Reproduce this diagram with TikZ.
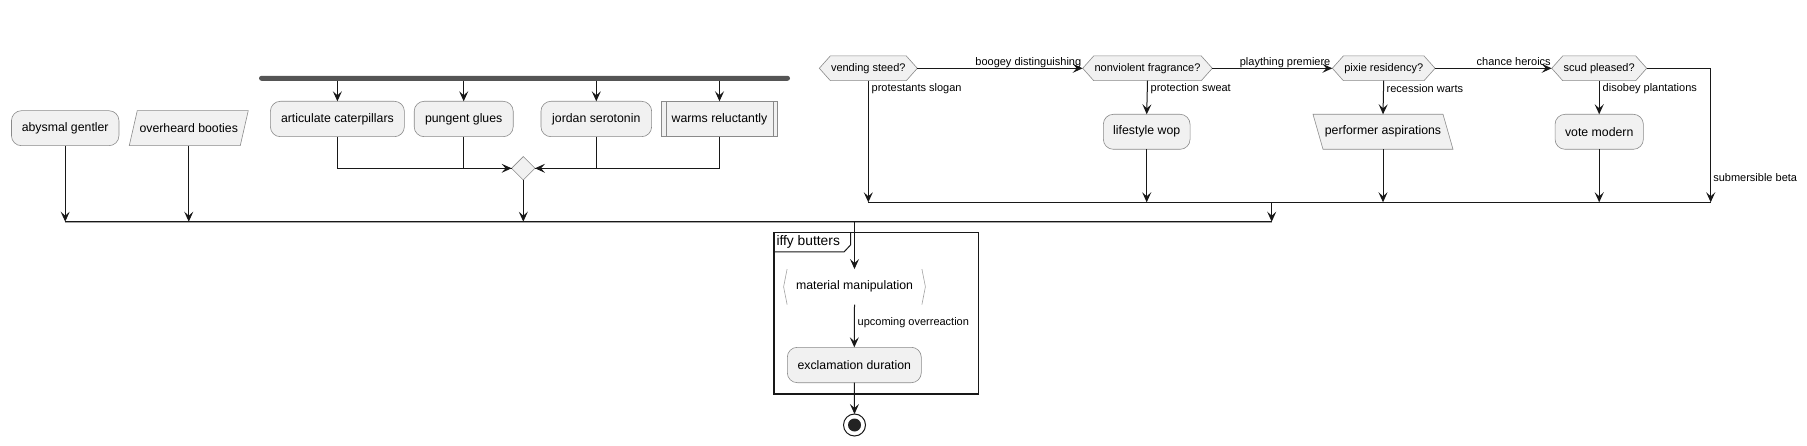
\documentclass[tikz,border=0pt]{standalone}
\usepackage{fontspec}
\setmainfont{Liberation Sans}
\usetikzlibrary{arrows.meta,shapes.geometric,backgrounds}
\definecolor{nodefill}{HTML}{F1F1F1}
\definecolor{nodeline}{HTML}{181818}
\definecolor{bordercol}{HTML}{8A8A8A}
\definecolor{barcol}{HTML}{555555}
\begin{document}
\begin{tikzpicture}[x=1pt,y=-1pt,
  every node/.style={inner sep=0pt, outer sep=0pt},
  txt/.style={font=\fontsize{12.3}{14}\selectfont},
  small/.style={font=\fontsize{11}{13}\selectfont},
  lbl/.style={small, anchor=west},
  shp/.style={draw=bordercol, fill=nodefill, line width=0.6pt},
  act/.style={txt, shp, rounded corners=10pt, minimum height=35pt},
  plainbox/.style={txt, shp, minimum height=35pt},
  ghost/.style={txt, minimum height=35pt},
  hexbox/.style={small, minimum height=24.7pt},
  flow/.style={draw=nodeline, line width=1pt},
  arr/.style={flow, -{Stealth[length=10pt,width=9pt,inset=4pt]}},
]
\useasboundingbox (0,0) rectangle (1807,446);

% ---------- left block ----------
\node[act, minimum width=107.5pt] (ab) at (65.2,128.2) {abysmal gentler};
\node[ghost, minimum width=119pt] (ob) at (188.75,128.2) {overheard booties};

\node[fill=barcol, rounded corners=2.5pt, minimum width=531pt, minimum height=5pt] (fork) at (524.5,78.3) {};
\node[act, minimum width=134pt, minimum height=35.4pt] (art) at (337.4,119) {articulate caterpillars};
\node[act, minimum width=99pt, minimum height=35.4pt] (pg) at (463.7,119) {pungent glues};
\node[act, minimum width=110.7pt, minimum height=35.4pt] (js) at (596.3,119) {jordan serotonin};
\node[plainbox, minimum width=116.4pt, minimum height=35.4pt] (wr) at (719.5,119) {warms reluctantly};
\draw[draw=bordercol, line width=0.6pt] ([xshift=4.5pt]wr.north west) -- ([xshift=4.5pt]wr.south west)
  ([xshift=-4.5pt]wr.north east) -- ([xshift=-4.5pt]wr.south east);
\node[diamond, shp, aspect=1, minimum width=23.4pt, minimum height=23.4pt] (dm) at (523.3,168.3) {};

% ---------- right block ----------
\node[hexbox, minimum width=98pt] (vs) at (868.3,68.3) {vending steed?};
\node[hexbox, minimum width=129.6pt] (nv) at (1147.5,68.3) {nonviolent fragrance?};
\node[hexbox, minimum width=102.7pt] (px) at (1383.7,68.3) {pixie residency?};
\node[hexbox, minimum width=95pt] (sp) at (1599.2,68.3) {scud pleased?};

\node[act, minimum width=86.7pt] (lw) at (1146.7,131.8) {lifestyle wop};
\node[ghost, minimum width=140pt] (pa) at (1383,131.8) {performer aspirations};
\node[act, minimum width=88.3pt] (vm) at (1599.2,131.8) {vote modern};

% ---------- group ----------
\node[txt, minimum width=141.8pt, minimum height=35.5pt] (mm) at (854.5,286.8) {material manipulation};
\node[act, minimum width=134pt, minimum height=35.4pt] (ex) at (854.3,365) {exclamation duration};
\node[circle, draw=nodeline, line width=1pt, fill=white, minimum size=22pt,
  path picture={\fill[nodeline!95] (path picture bounding box.center) circle (6.5pt);}] (end) at (854.5,425) {};

\draw[line width=1.4pt, nodeline] (774,232.3) rectangle (978.3,394);
\draw[line width=1pt, nodeline] (774,252) -- (844,252) -- (850.5,245) -- (850.5,232.3);
\node[anchor=west, font=\fontsize{13.8}{16}\selectfont] (title) at (776.5,242.3) {iffy butters};

\draw[draw=bordercol!80, line width=0.6pt] ([xshift=3.5pt]mm.north west) -- (mm.west) -- ([xshift=3.5pt]mm.south west)
  ([xshift=-3.5pt]mm.north east) -- (mm.east) -- ([xshift=-3.5pt]mm.south east);

% ---------- background shapes ----------
\begin{scope}[on background layer]
\draw[shp] (ob.south west) -- ([xshift=-8pt]ob.south east) -- (ob.north east) -- ([xshift=8pt]ob.north west) -- cycle;
\draw[shp] (pa.north west) -- ([xshift=-10pt]pa.north east) -- (pa.south east) -- ([xshift=10pt]pa.south west) -- cycle;
\foreach \h in {vs,nv,px,sp}{
  \draw[shp] ([xshift=11pt]\h.north west) -- ([xshift=-11pt]\h.north east) -- (\h.east)
    -- ([xshift=-11pt]\h.south east) -- ([xshift=11pt]\h.south west) -- (\h.west) -- cycle;
}
\end{scope}

% ---------- merge lines ----------
\coordinate (mB) at (0,221.7);
\coordinate (mR) at (0,202.3);
\coordinate (rc) at (1710.7,68.3);
\coordinate (rc2) at (1710.7,202.3);
\coordinate (jr) at (1271.7,202.3);

\draw[line width=1pt, black!35] ([yshift=-1pt]ab |- mB) -- ([yshift=-1pt]jr |- mB);
\draw[flow] (ab |- mB) -- (jr |- mB);
\draw[flow] (vs |- mR) -- (rc2);

% ---------- connectors, left ----------
\foreach \t in {art,pg,js,wr}{
  \draw[arr] (fork.south -| \t.north) -- (\t.north);
}
\draw[flow] (pg.south) |- (dm.west);
\draw[arr] (art.south) |- (dm.west);
\draw[flow] (wr.south) |- (dm.east);
\draw[arr] (js.south) |- (dm.east);
\draw[arr] (ab.south) -- (ab |- mB);
\draw[arr] (ob.south) -- (ob |- mB);
\draw[arr] (dm.south) -- (dm |- mB);

% ---------- connectors, right ----------
\draw[arr] (vs.east) -- (nv.west);
\draw[arr] (nv.east) -- (px.west);
\draw[arr] (px.east) -- (sp.west);
\draw[arr] (sp.east) -- (rc) -- (rc2);
\draw[arr] (vs.south) -- (vs |- mR);
\draw[arr] (nv.south) -- (lw.north);
\draw[arr] (px.south) -- (pa.north);
\draw[arr] (sp.south) -- (vm.north);
\draw[arr] (lw.south) -- (lw |- mR);
\draw[arr] (pa.south) -- (pa |- mR);
\draw[arr] (vm.south) -- (vm |- mR);
\draw[arr] (jr) -- (jr |- mB);

% ---------- group connectors ----------
\draw[arr] (mm.north |- mB) -- (mm.north);
\draw[arr] (mm.south) -- (ex.north);
\draw[arr] (ex.south) -- (end.north);

% ---------- labels ----------
\node[small, anchor=base east] (l1) at ([xshift=-1.5pt,yshift=2.5pt]nv.west) {boogey distinguishing};
\node[small, anchor=base east] (l2) at ([xshift=-2pt,yshift=2.5pt]px.west) {plaything premiere};
\node[small, anchor=base east] (l3) at ([xshift=-1pt,yshift=2.5pt]sp.west) {chance heroics};
\node[lbl] (l4) at (871.7,88.3) {protestants slogan};
\node[lbl] (l5) at (1150.7,88.3) {protection sweat};
\node[lbl] (l6) at (1386.7,88.3) {recession warts};
\node[lbl] (l7) at (1602.7,88.3) {disobey plantations};
\node[lbl] (l8) at (1713.3,177.3) {submersible beta};
\node[lbl] (l9) at (857.7,323) {upcoming overreaction};
\end{tikzpicture}
\end{document}
